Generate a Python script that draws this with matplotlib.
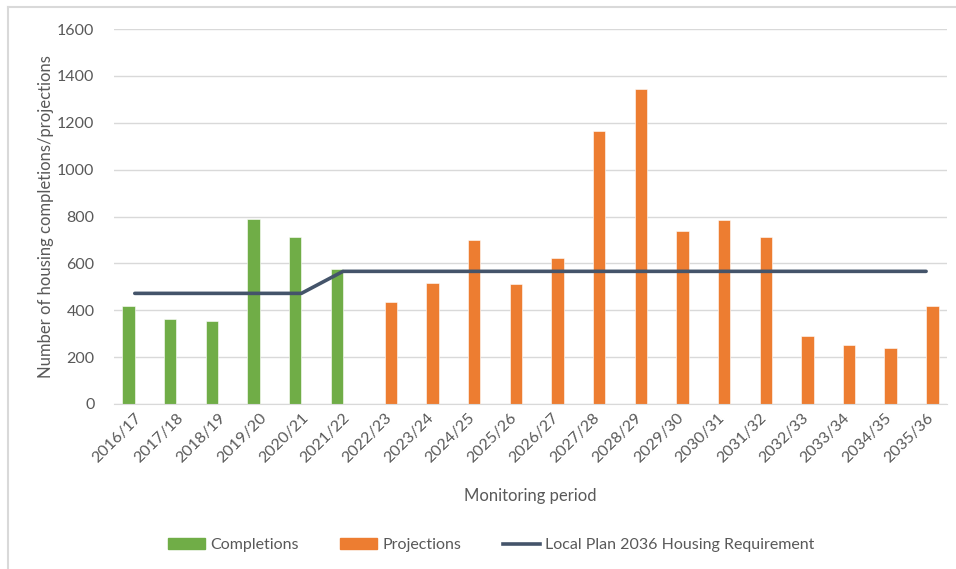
"""Housing completions and projections against the Local Plan requirement."""

import matplotlib

matplotlib.use("Agg")

import matplotlib.pyplot as plt
from matplotlib.lines import Line2D
from matplotlib.patches import Patch
import numpy as np

periods = [
    "2016/17", "2017/18", "2018/19", "2019/20", "2020/21", "2021/22",
    "2022/23", "2023/24", "2024/25", "2025/26", "2026/27", "2027/28",
    "2028/29", "2029/30", "2030/31", "2031/32", "2032/33", "2033/34",
    "2034/35", "2035/36",
]
completions = [417, 364, 356, 788, 711, 577] + [0] * 14
projections = [0] * 6 + [437, 518, 700, 513, 621, 1166, 1344, 738, 784,
                         711, 292, 252, 239, 420]
requirement = [472] * 5 + [566] * 15

GREEN = "#70AD47"
ORANGE = "#ED7D31"
NAVY = "#44546A"
TEXT = "#595959"
GRID = "#D9D9D9"

plt.rcParams["font.family"] = ["Lato", "DejaVu Sans"]

fig = plt.figure(figsize=(9.56, 5.69), dpi=100)
ax = fig.add_axes([0.1192, 0.29, 0.8713, 0.659])

x = np.arange(len(periods))
width = 0.3
ax.bar(x - width / 2, completions, width, color=GREEN, edgecolor="white",
       linewidth=0.4, zorder=2)
ax.bar(x + width / 2, projections, width, color=ORANGE, edgecolor="white",
       linewidth=0.4, zorder=2)
ax.plot(x, requirement, color=NAVY, linewidth=2.6, solid_capstyle="round",
        zorder=3)

ax.set_xlim(-0.5, len(periods) - 0.5)
ax.set_ylim(0, 1600)
ax.set_yticks(range(0, 1601, 200))
ax.set_xticks(x)
ax.set_xticklabels(periods, rotation=45, ha="right", rotation_mode="anchor")
ax.tick_params(axis="both", length=0, colors=TEXT, labelsize=11.5)
ax.tick_params(axis="y", pad=14)
ax.tick_params(axis="x", pad=5)
ax.grid(axis="y", color=GRID, linewidth=1, zorder=0)
for side in ("top", "right", "left"):
    ax.spines[side].set_visible(False)
ax.spines["bottom"].set_color(GRID)

ax.set_ylabel("Number of housing completions/projections", color=TEXT,
              fontsize=12, labelpad=2)
ax.set_xlabel("Monitoring period", color=TEXT, fontsize=12, labelpad=16)

handles = [
    Patch(color=GREEN, label="Completions"),
    Patch(color=ORANGE, label="Projections"),
    Line2D([], [], color=NAVY, linewidth=2.6,
           label="Local Plan 2036 Housing Requirement"),
]
leg = fig.legend(handles=handles, loc="center", bbox_to_anchor=(0.514, 0.042),
                 ncol=3, frameon=False, fontsize=11.5, handlelength=2.3,
                 handleheight=0.6, handletextpad=0.35, columnspacing=2.6)
for text in leg.get_texts():
    text.set_color(TEXT)

# chart frame: only the left and top edges show in the reference
fig.add_artist(Line2D([0.008, 0.008], [0.0, 0.988], color=GRID, linewidth=1.5,
                      transform=fig.transFigure))
fig.add_artist(Line2D([0.008, 1.0], [0.988, 0.988], color=GRID, linewidth=1.5,
                      transform=fig.transFigure))

fig.savefig("out.png", dpi=100)
plt.close(fig)
